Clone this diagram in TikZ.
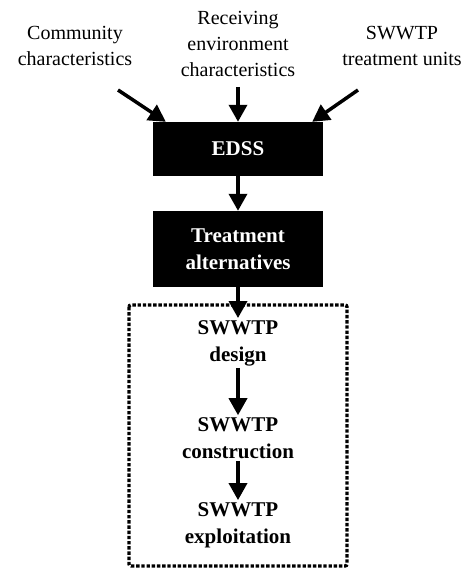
\documentclass[tikz,border=0pt]{standalone}
\usepackage{fontspec}
\setmainfont{Liberation Serif}
\usetikzlibrary{arrows.meta,calc}
\begin{document}
\begin{tikzpicture}[x=1pt,y=-1pt,
  arr/.style={line width=3.5pt,-{Triangle[length=17pt,width=18pt]}},
  blackbox/.style={fill=black,text=white,font=\fontsize{21}{27}\selectfont\bfseries,align=center,minimum width=170pt,inner sep=0pt},
  lbl/.style={font=\fontsize{20}{26}\selectfont,align=center,inner sep=1pt},
  blbl/.style={font=\fontsize{21}{27}\selectfont\bfseries,align=center,inner sep=2pt}]
\useasboundingbox (0,0) rectangle (471,569);
\node[lbl] (comm) at (75,46) {Community\\characteristics};
\node[lbl] (recv) at (238,44) {Receiving\\environment\\characteristics};
\node[lbl] (units) at (402,46) {SWWTP\\treatment units};
\node[blackbox,minimum height=54pt] (edss) at (238,149) {EDSS};
\node[blackbox,minimum height=76pt] (treat) at (238,249) {Treatment\\alternatives};
\draw[line width=3.4pt,dash pattern=on 3.4pt off 1.8pt,rounded corners=2pt] (129,305) rectangle (347,566);
\node[blbl] (design) at (238,343) {SWWTP\\design};
\node[blbl] (constr) at (238,438) {SWWTP\\construction};
\node[blbl] (exploit) at (238,525) {SWWTP\\exploitation};
\coordinate (s1) at (118,90);
\coordinate (s2) at (238,87);
\coordinate (s3) at (358,90);
\draw[arr] (s1) -- ([xshift=13pt]edss.north west);
\draw[arr] (s2) -- (edss.north);
\draw[arr] (s3) -- ([xshift=-11pt]edss.north east);
\draw[arr] (edss.south) -- (treat.north);
\draw[arr] (treat.south) -- (design.north);
\draw[arr] (design.south) -- (constr.north);
\draw[arr] (constr.south) -- (exploit.north);
\end{tikzpicture}
\end{document}
